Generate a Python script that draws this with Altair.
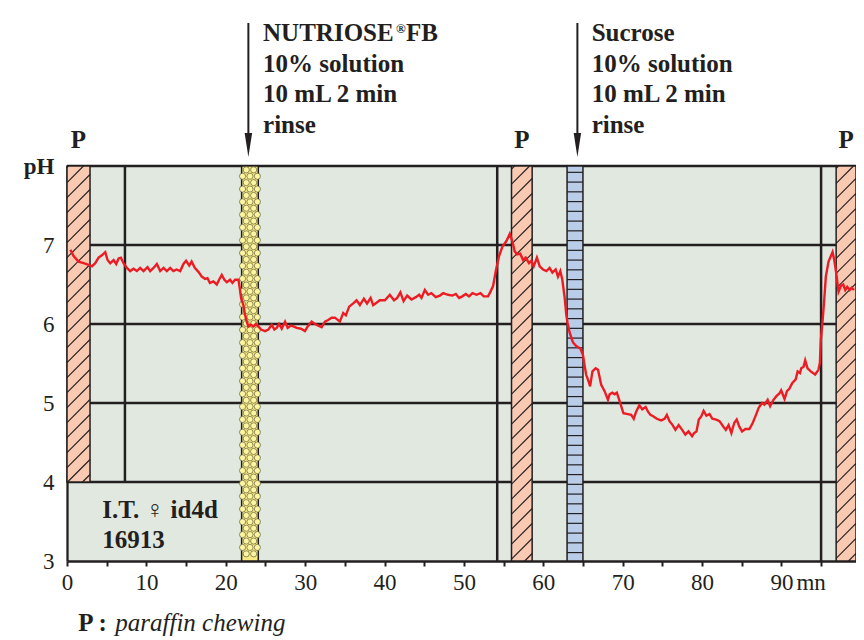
import altair as alt
import pandas as pd
import numpy as np

# ---------------- data ----------------
time_min = [0.43, 0.83, 1.46, 2.09, 2.72, 3.14, 3.56, 3.98, 4.40, 4.82, 5.11, 5.45, 5.87, 6.20, 6.50,
            6.79, 7.12, 7.55, 7.96, 8.38, 8.80, 9.22, 9.64, 10.14, 10.48, 10.90, 11.32, 11.74, 12.16,
            12.58, 13.00, 13.40, 13.80, 14.26, 14.67, 15.00, 15.40, 15.70, 16.10, 16.56, 16.98, 17.40,
            17.70, 18.00, 18.44, 18.87, 19.16, 19.50, 19.83, 20.13, 20.54, 20.84, 21.18, 21.60, 21.80,
            21.93, 22.22, 22.43, 22.64, 22.85, 23.19, 23.48, 23.78, 24.10, 24.45, 24.95, 25.37, 25.79,
            26.12, 26.42, 26.71, 27.05, 27.47, 27.80, 28.22, 28.52, 28.94, 29.48, 29.98, 30.32, 30.82,
            31.24, 31.66, 32.08, 32.50, 32.90, 33.34, 33.75, 34.38, 34.80, 35.13, 35.55, 36.06, 36.48,
            36.90, 37.40, 37.80, 38.25, 38.57, 39.00, 39.40, 40.05, 40.67, 41.20, 41.60, 42.00, 42.40,
            42.85, 43.40, 43.95, 44.37, 44.66, 45.08, 45.50, 45.90, 46.46, 46.97, 47.40, 48.00, 48.56,
            48.98, 49.40, 49.80, 50.24, 50.65, 51.08, 51.60, 52.09, 52.50, 53.05, 53.35, 53.68, 54.02,
            54.43, 54.86, 55.36, 55.78, 56.10, 56.40, 56.70, 57.10, 57.45, 57.79, 58.20, 58.50, 58.80,
            59.20, 59.55, 59.97, 60.40, 60.80, 61.15, 61.56, 61.85, 62.15, 62.40, 62.70, 62.90, 63.05,
            63.30, 63.73, 64.15, 64.67, 65.00, 65.20, 65.40, 65.75, 65.90, 66.20, 66.60, 66.90, 67.30,
            67.73, 68.15, 68.36, 68.70, 69.00, 69.27, 69.60, 70.10, 70.66, 71.08, 71.40, 71.70, 72.10,
            72.47, 72.90, 73.20, 73.50, 73.90, 74.30, 74.86, 75.28, 75.57, 75.90, 76.30, 76.65, 77.06,
            77.50, 77.90, 78.30, 78.75, 79.00, 79.30, 79.60, 79.90, 80.20, 80.55, 80.95, 81.30, 81.80,
            82.20, 82.70, 83.00, 83.35, 83.70, 84.07, 84.37, 84.70, 85.05, 85.46, 85.97, 86.40, 86.80,
            87.14, 87.56, 87.86, 88.27, 88.58, 89.00, 89.40, 89.75, 89.97, 90.40, 90.70, 91.00, 91.36,
            91.80, 92.05, 92.35, 92.50, 92.80, 93.00, 93.30, 93.70, 94.25, 94.67, 94.85, 94.97, 95.20,
            95.40, 95.60, 95.94, 96.24, 96.45, 96.66, 96.90, 97.20, 97.50, 97.80, 98.05, 98.30, 98.60,
            98.86, 99.15]
ph_value = [6.94, 6.86, 6.79, 6.77, 6.75, 6.73, 6.77, 6.84, 6.87, 6.91, 6.81, 6.77, 6.81, 6.76, 6.83,
            6.84, 6.77, 6.71, 6.67, 6.70, 6.67, 6.71, 6.67, 6.72, 6.67, 6.71, 6.76, 6.67, 6.71,
            6.67, 6.71, 6.67, 6.69, 6.67, 6.76, 6.80, 6.74, 6.79, 6.71, 6.66, 6.60, 6.57,
            6.58, 6.52, 6.54, 6.50, 6.56, 6.62, 6.56, 6.53, 6.56, 6.52, 6.56, 6.56, 6.43,
            6.33, 6.24, 6.12, 6.03, 5.97, 5.99, 5.97, 6.00, 5.97, 5.93, 5.91, 5.93, 5.99,
            5.93, 5.95, 6.00, 5.94, 6.03, 5.95, 5.98, 5.97, 5.95, 5.94, 5.91, 5.97, 6.03,
            6.00, 5.98, 5.96, 6.03, 6.05, 6.08, 6.08, 6.03, 6.14, 6.11, 6.22, 6.26, 6.30,
            6.24, 6.32, 6.26, 6.33, 6.24, 6.27, 6.30, 6.30, 6.37, 6.30, 6.33, 6.40, 6.29,
            6.36, 6.31, 6.34, 6.37, 6.33, 6.43, 6.37, 6.39, 6.34, 6.36, 6.39, 6.37, 6.36,
            6.38, 6.33, 6.35, 6.38, 6.35, 6.39, 6.37, 6.39, 6.35, 6.35, 6.41, 6.48, 6.67,
            6.86, 6.98, 7.05, 7.14, 7.05, 6.92, 6.88, 6.89, 6.81, 6.84, 6.77, 6.80, 6.73,
            6.84, 6.73, 6.69, 6.67, 6.71, 6.65, 6.69, 6.60, 6.67, 6.56, 6.33, 6.12, 6.02,
            5.90, 5.77, 5.72, 5.69, 5.61, 5.48, 5.36, 5.26, 5.21, 5.40, 5.44, 5.42, 5.23,
            5.15, 5.04, 5.11, 5.13, 5.11, 5.13, 5.03, 4.87, 4.86, 4.85, 4.80, 4.89, 4.97,
            4.92, 4.95, 4.89, 4.85, 4.83, 4.80, 4.78, 4.80, 4.85, 4.77, 4.72, 4.66, 4.72,
            4.66, 4.60, 4.64, 4.58, 4.62, 4.64, 4.79, 4.83, 4.90, 4.84, 4.86, 4.80, 4.79,
            4.77, 4.70, 4.66, 4.72, 4.62, 4.75, 4.79, 4.70, 4.64, 4.67, 4.67, 4.75, 4.85,
            4.94, 5.00, 4.98, 5.04, 4.96, 5.04, 5.09, 5.12, 5.16, 5.05, 5.15, 5.18, 5.25,
            5.30, 5.40, 5.38, 5.44, 5.46, 5.54, 5.44, 5.40, 5.36, 5.42, 5.51, 5.80, 6.05,
            6.31, 6.60, 6.79, 6.86, 6.91, 6.81, 6.65, 6.41, 6.48, 6.50, 6.43, 6.47, 6.43,
            6.46, 6.43]

paraffin_start = [0.0, 56.0, 96.9]
paraffin_end = [2.9, 58.6, 99.4]
paraffin_low = [4.0, 3.0, 3.0]
paraffin_high = [8.0, 8.0, 8.0]

rinse_start = [22.0, 63.0]
rinse_end = [24.1, 65.0]
rinse_arrow_time = [22.85, 64.3]

frame_ph = [4, 5, 6, 7, 8]
marker_time = [7.3, 54.2, 95.0]
marker_low = [4.0, 3.0, 3.0]

x_tick_values = list(range(0, 100, 5))
y_tick_values = [3, 4, 5, 6, 7, 8]

nutriose_lines = ["NUTRIOSE", "10% solution", "10 mL 2 min", "rinse"]
sucrose_lines = ["Sucrose", "10% solution", "10 mL 2 min", "rinse"]
annot_line_ph = [9.576, 9.19, 8.805, 8.424]
nutriose_text_time = 24.7
sucrose_text_time = 66.1
subject_lines = ["I.T. \u2640 id4d", "16913"]
subject_ph = [3.54, 3.16]
subject_time = 4.45

# ---------------- layout / style ----------------
W, H = 789, 395
X_MIN, X_MAX = 0, 99.4
Y_MIN, Y_MAX = 3, 8
px_x = W / (X_MAX - X_MIN)
px_y = H / (Y_MAX - Y_MIN)

INK = "#231F20"
RED = "#ED1C24"
BG = "#E1E8E0"
SALMON = "#F9C9B1"
YELLOW = "#F8EC82"
YELLOW_DOT = "#FDF6A0"
BLUE = "#B9CDE8"
SERIF = "Liberation Serif, Times New Roman, serif"

xs = alt.Scale(domain=[X_MIN, X_MAX], nice=False, zero=False)
ys = alt.Scale(domain=[Y_MIN, Y_MAX], nice=False, zero=False)

x_axis = alt.Axis(title=None, values=x_tick_values,
                  labelExpr="datum.value % 10 === 0 ? datum.label : ''",
                  grid=False, domainColor=INK, domainWidth=2.3, tickColor=INK, tickWidth=2,
                  tickSize=5, labelFont=SERIF, labelFontSize=23, labelColor=INK, labelPadding=23,
                  labelBaseline="alphabetic", labelFlush=False, labelOverlap=False)
y_axis = alt.Axis(title=None, values=y_tick_values,
                  labelExpr="datum.value === 8 ? 'pH' : datum.label",
                  ticks=False, tickSize=0, grid=False, domainColor=INK, domainWidth=2.3,
                  labelFont=SERIF, labelFontSize=23, labelColor=INK, labelPadding=13,
                  labelFontWeight={"condition": {"test": "datum.value === 8", "value": "bold"},
                                   "value": "normal"},
                  labelFlush=False, labelOverlap=False)


def X(f):
    return alt.X(f"{f}:Q", scale=xs, axis=x_axis)


def Y(f):
    return alt.Y(f"{f}:Q", scale=ys, axis=y_axis)


# ---------------- tables ----------------
line_df = pd.DataFrame({"t": time_min, "ph": ph_value})
frame_df = pd.DataFrame({"y": frame_ph, "x0": X_MIN, "x1": X_MAX})
marker_df = pd.DataFrame({"x": marker_time, "y0": marker_low, "y1": Y_MAX})
par_df = pd.DataFrame({"x0": paraffin_start, "x1": paraffin_end, "y0": paraffin_low, "y1": paraffin_high})
par_df["xc"] = (par_df["x0"] + par_df["x1"]) / 2
par_df["label"] = "P"
par_df["ly"] = Y_MAX + 18 / px_y
rinse_df = pd.DataFrame({"x0": rinse_start, "x1": rinse_end, "y0": Y_MIN, "y1": Y_MAX,
                         "fill": [YELLOW, BLUE]})

# hatch of the paraffin bars (45 degree lines)
k = px_x / px_y
gap = 15 / px_y
hatch = []
for x0, x1, lo, hi in zip(paraffin_start, paraffin_end, paraffin_low, paraffin_high):
    c = lo - k * (x1 - x0) + gap / 2
    while c < hi:
        xa = max(x0, x0 + (lo - c) / k)
        xb = min(x1, x0 + (hi - c) / k)
        if xb > xa:
            hatch.append({"x0": xa, "x1": xb, "y0": c + k * (xa - x0), "y1": c + k * (xb - x0)})
        c += gap
hatch_df = pd.DataFrame(hatch)

# stripes of sucrose bar
s_gap = 9.75 / px_y
stripe_y = np.arange(Y_MAX - 0.65 * s_gap, Y_MIN, -s_gap)
stripe_df = pd.DataFrame({"y": stripe_y, "x0": rinse_start[1], "x1": rinse_end[1]})

# honeycomb of nutriose bar
c_dx = 7.4 / px_x
c_dy = 6.4 / px_y
xc = (rinse_start[0] + rinse_end[0]) / 2
dots = []
for i, yv in enumerate(np.arange(Y_MAX - 0.6 * c_dy, Y_MIN + 0.3 * c_dy, -c_dy)):
    offs = [-0.5, 0.5] if i % 2 == 0 else [-1, 0, 1]
    for o in offs:
        dots.append({"x": xc + o * c_dx, "y": yv})
dot_df = pd.DataFrame(dots)

arrow_df = pd.DataFrame({"x": rinse_arrow_time, "y0": Y_MAX + 143 / px_y, "y1": Y_MAX + 30 / px_y,
                         "yh": Y_MAX + 21 / px_y})

txt_rows = []
for i, s in enumerate(nutriose_lines):
    txt_rows.append({"x": nutriose_text_time, "y": annot_line_ph[i], "label": s})
for i, s in enumerate(sucrose_lines):
    txt_rows.append({"x": sucrose_text_time, "y": annot_line_ph[i], "label": s})
for i, s in enumerate(subject_lines):
    txt_rows.append({"x": subject_time, "y": subject_ph[i], "label": s})
txt_df = pd.DataFrame(txt_rows)

sup_df = pd.DataFrame({"x": [nutriose_text_time], "y": [annot_line_ph[0]], "label": ["\u00ae"]})
fb_df = pd.DataFrame({"x": [nutriose_text_time], "y": [annot_line_ph[0]], "label": ["FB"]})
note_bold = pd.DataFrame({"x": [1.42], "y": [Y_MIN - 70 / px_y], "label": ["P :"]})
note_it = pd.DataFrame({"x": [6.08], "y": [Y_MIN - 70 / px_y], "label": ["paraffin chewing"]})
mn_df = pd.DataFrame({"x": [91.9], "y": [Y_MIN - 29 / px_y], "label": ["mn"]})

# ---------------- layers ----------------
frame = alt.Chart(frame_df).mark_rule(color=INK, strokeWidth=2.3).encode(
    x=X("x0"), x2="x1:Q", y=Y("y"))
markers = alt.Chart(marker_df).mark_rule(color=INK, strokeWidth=2.5).encode(
    x=X("x"), y=Y("y0"), y2="y1:Q")
par_bars = alt.Chart(par_df).mark_rect(fill=SALMON, stroke=INK, strokeWidth=1.5).encode(
    x=X("x0"), x2="x1:Q", y=Y("y0"), y2="y1:Q")
hatch_l = alt.Chart(hatch_df).mark_rule(color=INK, strokeWidth=1.1).encode(
    x=X("x0"), x2="x1:Q", y=Y("y0"), y2="y1:Q")
rinse_bars = alt.Chart(rinse_df).mark_rect(stroke=INK, strokeWidth=1.5).encode(
    x=X("x0"), x2="x1:Q", y=Y("y0"), y2="y1:Q", fill=alt.Fill("fill:N", scale=None))
stripes = alt.Chart(stripe_df).mark_rule(color=INK, strokeWidth=1.2).encode(
    x=X("x0"), x2="x1:Q", y=Y("y"))
dots_l = alt.Chart(dot_df).mark_point(shape="circle", size=38, filled=True, fill=YELLOW_DOT,
                                      stroke="#4A4430", strokeWidth=0.6, opacity=1).encode(
    x=X("x"), y=Y("y"))
ph_line = alt.Chart(line_df).mark_line(color=RED, strokeWidth=2.4).encode(
    x=X("t"), y=Y("ph"))
arrow_shaft = alt.Chart(arrow_df).mark_rule(color=INK, strokeWidth=2).encode(
    x=X("x"), y=Y("y0"), y2="y1:Q")
arrow_head = alt.Chart(arrow_df).mark_point(shape="M-0.31,-1L0.31,-1L0,1Z", size=576, filled=True,
                                            color=INK, opacity=1).encode(
    x=X("x"), y=Y("yh"))
p_labels = alt.Chart(par_df).mark_text(font=SERIF, fontSize=25, fontWeight="bold", color=INK,
                                       baseline="alphabetic", align="center").encode(
    x=X("xc"), y=Y("ly"), text="label:N")
texts = alt.Chart(txt_df).mark_text(font=SERIF, fontSize=25, fontWeight="bold", color=INK,
                                    baseline="alphabetic", align="left").encode(
    x=X("x"), y=Y("y"), text="label:N")
sup = alt.Chart(sup_df).mark_text(font=SERIF, fontSize=13, fontWeight="bold", color=INK,
                                  baseline="alphabetic", align="left", dx=133, dy=-8).encode(
    x=X("x"), y=Y("y"), text="label:N")
fb = alt.Chart(fb_df).mark_text(font=SERIF, fontSize=25, fontWeight="bold", color=INK,
                                baseline="alphabetic", align="left", dx=143).encode(
    x=X("x"), y=Y("y"), text="label:N")
n_bold = alt.Chart(note_bold).mark_text(font=SERIF, fontSize=25, fontWeight="bold", color=INK,
                                        baseline="alphabetic", align="left").encode(
    x=X("x"), y=Y("y"), text="label:N")
n_it = alt.Chart(note_it).mark_text(font=SERIF, fontSize=25, fontStyle="italic", color=INK,
                                    baseline="alphabetic", align="left").encode(
    x=X("x"), y=Y("y"), text="label:N")
mn = alt.Chart(mn_df).mark_text(font=SERIF, fontSize=23, color=INK,
                                baseline="alphabetic", align="left").encode(
    x=X("x"), y=Y("y"), text="label:N")

chart = alt.layer(
    frame, markers, par_bars, hatch_l, rinse_bars, stripes, dots_l, ph_line,
    arrow_shaft, arrow_head, p_labels, texts, sup, fb, n_bold, n_it, mn
).properties(
    width=W, height=H,
    autosize=alt.AutoSizeParams(type="none"),
    padding={"left": 59, "top": 158, "right": 0, "bottom": 76},
    background="white",
).configure_view(stroke=None, fill=BG)

chart.save("out.html", embed_options={"renderer": "svg", "actions": False})
